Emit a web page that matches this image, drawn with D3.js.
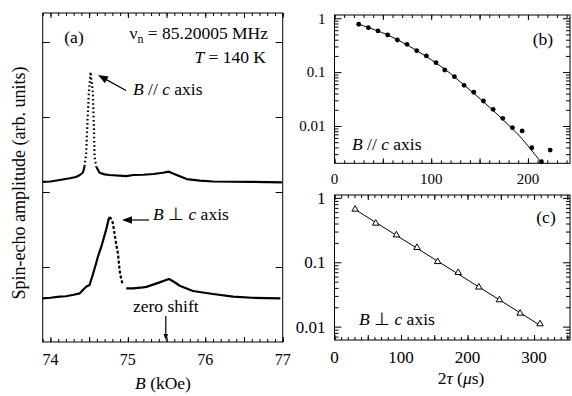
<!DOCTYPE html>
<html>
<head>
<meta charset="utf-8">
<script src="https://cdn.jsdelivr.net/npm/d3@7"></script>
<style>
	body { margin: 0; background: #fff; }
	svg { display: block; font-family: 'Liberation Serif', 'Times New Roman', serif; }
	.axis path { display: none; }
	.axis line { stroke: #000; stroke-width: 1; }
	.axis text { fill: #000; }
</style>
</head>
<body>
<svg id="chart" width="572" height="396"></svg>
<script>
// ---- panel (a): NMR spectra, field in kOe, amplitude in arb. units ----
const fieldPar = [73.90, 74.00, 74.12, 74.25, 74.33, 74.38, 74.42, 74.44, 74.462, 74.475, 74.496, 74.518, 74.548, 74.561, 74.57, 74.592, 74.635, 74.70, 74.76, 74.98, 75.07, 75.20, 75.33, 75.45, 75.53, 75.63, 75.76, 75.93, 76.10, 76.36, 76.60, 76.80, 76.99];
const ampPar = [2.135, 2.14, 2.16, 2.183, 2.20, 2.227, 2.26, 2.34, 2.52, 2.87, 3.32, 3.60, 3.32, 2.87, 2.47, 2.337, 2.257, 2.235, 2.227, 2.213, 2.227, 2.23, 2.24, 2.257, 2.271, 2.227, 2.173, 2.151, 2.14, 2.137, 2.135, 2.133, 2.129];
const peakParRange = [74.44, 74.592];

const fieldPerp = [73.90, 74.00, 74.12, 74.20, 74.30, 74.38, 74.46, 74.505, 74.548, 74.59, 74.613, 74.657, 74.72, 74.75, 74.764, 74.78, 74.807, 74.85, 74.872, 74.894, 74.916, 74.937, 74.98, 75.066, 75.196, 75.24, 75.41, 75.53, 75.60, 75.67, 75.84, 76.10, 76.36, 76.60, 76.97];
const ampPerp = [0.583, 0.59, 0.604, 0.61, 0.63, 0.649, 0.737, 0.76, 0.90, 1.05, 1.137, 1.271, 1.50, 1.63, 1.667, 1.65, 1.583, 1.30, 1.18, 0.95, 0.83, 0.76, 0.716, 0.716, 0.729, 0.735, 0.795, 0.84, 0.80, 0.75, 0.68, 0.64, 0.604, 0.59, 0.583];
const peakPerpRange = [74.764, 74.94];

const zeroShift = 75.49;

// ---- panel (b): spin-echo decay, B // c ----
const tauPar = [25, 35, 45, 55, 65, 75, 85, 95, 105, 114, 124, 134, 144, 154, 164, 174, 184, 194, 204, 214, 223];
const echoPar = [0.774, 0.669, 0.581, 0.49, 0.395, 0.329, 0.25, 0.20, 0.15, 0.1096, 0.0823, 0.057, 0.0423, 0.0291, 0.0204, 0.0139, 0.0093, 0.0081, 0.00395, 0.00217, 0.00358];
const fitTauPar = [25, 55, 85, 115, 134, 154, 174, 192, 213];
const fitEchoPar = [0.774, 0.49, 0.251, 0.11, 0.0575, 0.0282, 0.0132, 0.0063, 0.00219];

// ---- panel (c): spin-echo decay, B perp c ----
const tauPerp = [31, 62, 93, 124, 155, 186, 217, 248, 279, 309];
const echoPerp = [0.665, 0.403, 0.265, 0.169, 0.102, 0.069, 0.041, 0.026, 0.0161, 0.011];
const fitTauPerp = [31, 309];
const fitEchoPerp = [0.66, 0.0105];

const decadeLabels = [1, 0.1, 0.01];

const svg = d3.select('#chart');
const annot = 17.5;

function zip(xs, ys) {
	return xs.map((x, i) => ({ x: x, y: ys[i] }));
}

// inward ticks on all four sides of a frame, plus the frame itself
function frameAxes(g, x, y, w, h, opts) {
	const sides = [
		{ fn: d3.axisBottom, s: x, t: `translate(0,${h})` },
		{ fn: d3.axisTop, s: x, t: 'translate(0,0)' },
		{ fn: d3.axisLeft, s: y, t: 'translate(0,0)' },
		{ fn: d3.axisRight, s: y, t: `translate(${w},0)` },
	];
	sides.forEach((sd, i) => {
		const set = i < 2 ? opts.x : opts.y;
		set.forEach((lv) => {
			g.append('g')
				.attr('class', 'axis')
				.attr('transform', sd.t)
				.call(sd.fn(sd.s).tickValues(lv.values).tickSizeInner(-lv.len).tickSizeOuter(0).tickFormat(''));
		});
	});
	g.append('rect')
		.attr('width', w)
		.attr('height', h)
		.attr('fill', 'none')
		.attr('stroke', '#000')
		.attr('stroke-width', 1);
}

function tickLabels(g, scale, values, fmt, orient, offset, size) {
	g.selectAll(null)
		.data(values)
		.join('text')
		.attr('x', (d) => (orient === 'x' ? scale(d) : -offset))
		.attr('y', (d) => (orient === 'x' ? offset : scale(d)))
		.attr('dy', orient === 'x' ? 0 : '0.35em')
		.attr('text-anchor', orient === 'x' ? 'middle' : 'end')
		.style('font-size', size + 'px')
		.text(fmt);
}

function arrow(x1, y1, x2, y2, head) {
	const ang = Math.atan2(y2 - y1, x2 - x1);
	svg.append('line')
		.attr('x1', x1).attr('y1', y1)
		.attr('x2', x2 - Math.cos(ang) * head * 0.8).attr('y2', y2 - Math.sin(ang) * head * 0.8)
		.attr('stroke', '#000').attr('stroke-width', 1.2);
	const hw = head * 0.38;
	const bx = x2 - Math.cos(ang) * head, by = y2 - Math.sin(ang) * head;
	svg.append('path')
		.attr('d', `M${x2},${y2}L${bx - Math.sin(ang) * hw},${by + Math.cos(ang) * hw}L${bx + Math.sin(ang) * hw},${by - Math.cos(ang) * hw}Z`)
		.attr('fill', '#000');
}

// ================= panel (a) =================
const a = { left: 42.7, top: 13, right: 282.7, bottom: 342 };
const aw = a.right - a.left, ah = a.bottom - a.top;
const xA = d3.scaleLinear().domain([73.9, 77.0]).range([0, aw]);
const yA = d3.scaleLinear().domain([0, 4.387]).range([ah, 0]);
const gA = svg.append('g').attr('transform', `translate(${a.left},${a.top})`);

frameAxes(gA, xA, yA, aw, ah, {
	x: [
		{ values: xA.ticks(31), len: 3 },
		{ values: xA.ticks(6), len: 5 },
	],
	y: [{ values: [1, 2, 3, 4], len: 7 }],
});
tickLabels(gA, xA, [74, 75, 76, 77], (d) => d, 'x', ah + 23, 16);

function spectrum(fields, amps, range, dash) {
	const pts = zip(fields, amps);
	const line = d3.line().x((d) => xA(d.x)).y((d) => yA(d.y));
	gA.append('path')
		.datum(pts)
		.attr('d', line.defined((d) => d.x <= range[0] || d.x >= range[1]))
		.attr('fill', 'none')
		.attr('stroke', '#000')
		.attr('stroke-width', 2.2)
		.attr('stroke-linejoin', 'round');
	gA.append('path')
		.datum(pts.filter((d) => d.x >= range[0] && d.x <= range[1]))
		.attr('d', d3.line().x((d) => xA(d.x)).y((d) => yA(d.y)))
		.attr('fill', 'none')
		.attr('stroke', '#000')
		.attr('stroke-width', 2.2)
		.attr('stroke-dasharray', dash);
}
spectrum(fieldPar, ampPar, peakParRange, '1.6,2.6');
spectrum(fieldPerp, ampPerp, peakPerpRange, '3,2');

// annotations (a)
svg.append('text').attr('x', 74).attr('y', 43).attr('text-anchor', 'middle').style('font-size', annot + 'px').text('(a)');
const nu = svg.append('text').attr('x', 268).attr('y', 38.5).attr('text-anchor', 'end').style('font-size', annot + 'px');
nu.append('tspan').text('ν');
nu.append('tspan').attr('dy', 4).style('font-size', '12px').text('n');
nu.append('tspan').attr('dy', -4).text(' = 85.20005 MHz');
const tt = svg.append('text').attr('x', 266).attr('y', 63).attr('text-anchor', 'end').style('font-size', annot + 'px');
tt.append('tspan').style('font-style', 'italic').text('T');
tt.append('tspan').text(' = 140 K');

function orientLabel(x, y, sym) {
	const t = svg.append('text').attr('x', x).attr('y', y).style('font-size', annot + 'px');
	t.append('tspan').style('font-style', 'italic').text('B');
	t.append('tspan').text(` ${sym} `);
	t.append('tspan').style('font-style', 'italic').text('c');
	t.append('tspan').text(' axis');
	return t;
}
orientLabel(133, 95, '//');
arrow(126, 90.5, 98, 75, 10);
orientLabel(153, 219.5, '⊥');
arrow(149, 220, 122, 220, 10);

svg.append('text').attr('x', a.left + xA(zeroShift)).attr('y', 311.5).attr('text-anchor', 'middle').style('font-size', annot + 'px').text('zero shift');
arrow(a.left + xA(zeroShift), 316, a.left + xA(zeroShift), 340, 6);

const bl = svg.append('text').attr('x', 163).attr('y', 389).attr('text-anchor', 'middle').style('font-size', annot + 'px');
bl.append('tspan').style('font-style', 'italic').text('B');
bl.append('tspan').text(' (kOe)');

svg.append('text')
	.attr('transform', 'translate(25,183) rotate(-90)')
	.attr('text-anchor', 'middle')
	.style('font-size', '18px')
	.text('Spin-echo amplitude (arb. units)');

// ================= decay panels =================
function decayPanel(box, xMax, yDom, xs, ys, fx, fy, marker, tickSize, labelOff) {
	const w = box.right - box.left, h = box.bottom - box.top;
	const x = d3.scaleLinear().domain([0, xMax]).range([0, w]);
	const y = d3.scaleLog().domain(yDom).range([h, 0]);
	const g = svg.append('g').attr('transform', `translate(${box.left},${box.top})`);
	const logTicks = y.ticks();
	frameAxes(g, x, y, w, h, {
		x: [
			{ values: d3.range(0, xMax, 10), len: 3 },
			{ values: d3.range(0, xMax, 50), len: 5 },
		],
		y: [
			{ values: logTicks.filter((d) => !decadeLabels.includes(d)), len: 4 },
			{ values: decadeLabels, len: 7 },
		],
	});
	tickLabels(g, x, x.ticks(3).filter((d) => d % 100 === 0), (d) => d, 'x', h + labelOff, tickSize);
	tickLabels(g, y, decadeLabels, (d) => d, 'y', 9, tickSize);

	const clip = 'clip' + box.top;
	g.append('clipPath').attr('id', clip).append('rect').attr('width', w).attr('height', h);
	g.append('path')
		.datum(zip(fx, fy))
		.attr('clip-path', `url(#${clip})`)
		.attr('d', d3.line().curve(d3.curveCatmullRom).x((d) => x(d.x)).y((d) => y(d.y)))
		.attr('fill', 'none')
		.attr('stroke', '#000')
		.attr('stroke-width', 1);

	const pts = zip(xs, ys);
	if (marker === 'circle') {
		g.selectAll('.pt')
			.data(pts)
			.join('circle')
			.attr('cx', (d) => x(d.x))
			.attr('cy', (d) => y(d.y))
			.attr('r', 2.4)
			.attr('fill', '#000');
	} else {
		g.selectAll('.pt')
			.data(pts)
			.join('path')
			.attr('transform', (d) => `translate(${x(d.x)},${y(d.y)})`)
			.attr('d', d3.symbol(d3.symbolTriangle).size(18))
			.attr('fill', '#fff')
			.attr('stroke', '#000')
			.attr('stroke-width', 1);
	}
	return g;
}

decayPanel({ left: 334.5, top: 15, right: 570, bottom: 163.3 }, 243.5, [0.00203, 1.15],
	tauPar, echoPar, fitTauPar, fitEchoPar, 'circle', 15, 21);
decayPanel({ left: 334.5, top: 195, right: 570, bottom: 340 }, 354, [0.0062, 1.11],
	tauPerp, echoPerp, fitTauPerp, fitEchoPerp, 'triangle', 17, 23);

svg.append('text').attr('x', 543).attr('y', 45).attr('text-anchor', 'middle').style('font-size', annot + 'px').text('(b)');
svg.append('text').attr('x', 546).attr('y', 223).attr('text-anchor', 'middle').style('font-size', annot + 'px').text('(c)');
orientLabel(352, 150, '//');
orientLabel(359, 325, '⊥');

const tl = svg.append('text').attr('x', 461).attr('y', 384).attr('text-anchor', 'middle').style('font-size', annot + 'px');
tl.append('tspan').text('2');
tl.append('tspan').style('font-style', 'italic').text('τ');
tl.append('tspan').text(' (');
tl.append('tspan').style('font-style', 'italic').text('μ');
tl.append('tspan').text('s)');
</script>
</body>
</html>
